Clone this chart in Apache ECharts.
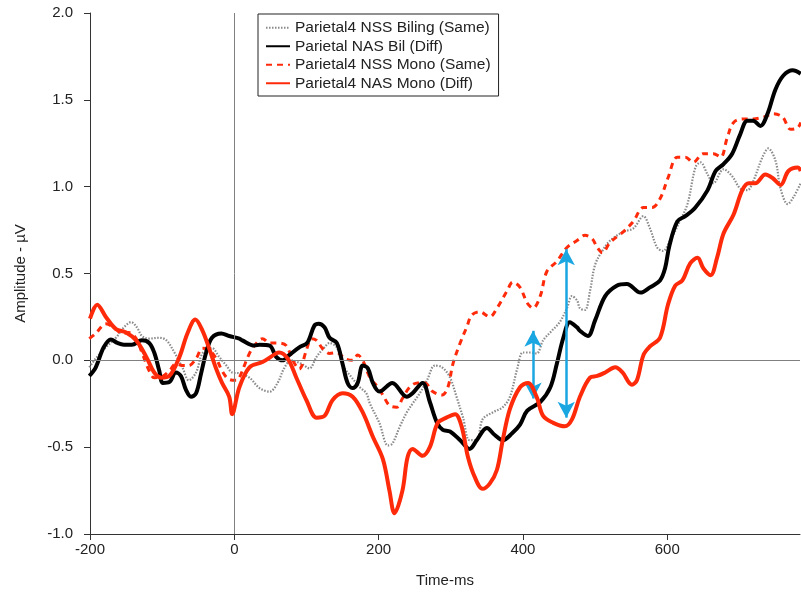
<!DOCTYPE html>
<html>
<head>
<meta charset="utf-8">
<script src="https://cdn.jsdelivr.net/npm/echarts@6/dist/echarts.min.js"></script>
<style>html,body{margin:0;padding:0;background:#fff}#c{width:801px;height:598px}</style>
</head>
<body>
<div id="c"></div>
<script>
var seriesNames = ['Parietal4 NSS Biling (Same)', 'Parietal NAS Bil (Diff)', 'Parietal4 NSS Mono (Same)', 'Parietal4 NAS Mono (Diff)'];
var xTicks = [-200, 0, 200, 400, 600];
var yTicks = [-1.0, -0.5, 0.0, 0.5, 1.0, 1.5, 2.0];

var grayT = [-201,-192,-178,-164,-153,-143,-135,-128,-118,-104,-94,-83,-72,-63,-53,-44,-31,-21,-11,-3,7,21,35,49,60,69,79,93,104,114,125,132,142,153,163,174,183,188,201,213,219,229,239,247,257,267,278,288,299,308,317,326,336,344,358,372,382,392,400,410,419,428,440,451,461,468,475,479,486,493,500,510,521,539,553,567,576,586,594,604,615,628,639,646,656,664,678,690,701,711,719,732,740,750,757,767,775,785];
var grayV = [-0.04,0.01,0.075,0.13,0.19,0.22,0.19,0.14,0.125,0.13,0.115,0.045,-0.04,-0.115,-0.07,0.04,0.07,0.02,-0.03,-0.07,-0.075,-0.10,-0.16,-0.18,-0.13,-0.046,0.0,-0.02,-0.046,0.02,0.075,0.10,0.075,-0.046,-0.10,-0.155,-0.19,-0.25,-0.36,-0.49,-0.48,-0.385,-0.30,-0.25,-0.19,-0.115,-0.03,-0.04,-0.10,-0.21,-0.33,-0.46,-0.46,-0.34,-0.30,-0.27,-0.21,-0.05,0.045,0.045,0.04,0.115,0.17,0.22,0.30,0.37,0.345,0.30,0.29,0.40,0.55,0.63,0.69,0.74,0.76,0.83,0.76,0.65,0.63,0.69,0.78,0.90,1.11,1.14,1.07,1.02,1.10,1.06,0.99,0.98,1.03,1.17,1.22,1.15,0.99,0.90,0.94,1.02];

var blackT = [-201,-192,-181,-171,-162,-153,-142,-128,-118,-111,-104,-99,-90,-81,-74,-67,-60,-53,-46,-39,-31,-18,-7,7,11,28,35,49,58,67,76,90,101,111,117,125,132,142,150,157,164,171,178,185,192,201,219,239,247,261,271,281,289,299,313,326,336,350,361,372,385,396,406,424,438,447,456,465,475,479,490,500,514,530,544,563,576,590,597,603,614,625,639,656,667,678,690,701,711,719,729,739,750,761,774,785];
var blackV = [-0.09,-0.04,0.075,0.12,0.10,0.09,0.09,0.115,0.10,0.045,-0.06,-0.13,-0.125,-0.07,-0.09,-0.17,-0.21,-0.19,-0.075,0.045,0.13,0.155,0.14,0.125,0.115,0.085,0.09,0.085,0.02,0.0,0.03,0.075,0.10,0.20,0.21,0.19,0.13,0.10,-0.02,-0.13,-0.16,-0.13,-0.03,-0.045,-0.13,-0.18,-0.13,-0.21,-0.19,-0.13,-0.24,-0.36,-0.40,-0.41,-0.46,-0.51,-0.46,-0.39,-0.43,-0.46,-0.42,-0.37,-0.29,-0.24,-0.155,-0.02,0.13,0.22,0.19,0.17,0.14,0.23,0.37,0.43,0.44,0.39,0.42,0.46,0.53,0.66,0.80,0.83,0.88,0.98,1.09,1.13,1.19,1.30,1.38,1.38,1.35,1.42,1.56,1.64,1.67,1.65];

var dashT = [-201,-192,-178,-164,-156,-146,-136,-128,-118,-111,-101,-90,-81,-72,-63,-53,-44,-35,-25,-17,-7,3,7,21,31,39,49,62,72,81,90,100,107,114,122,132,142,153,164,171,178,188,199,206,215,225,233,243,254,264,275,288,296,303,313,322,329,340,354,364,378,386,396,406,414,424,433,447,461,475,486,496,503,510,521,539,553,567,579,590,601,614,625,636,650,664,674,683,692,706,719,733,747,760,771,781,785];
var dashV = [0.125,0.155,0.21,0.18,0.155,0.16,0.125,0.045,-0.06,-0.10,-0.095,-0.06,-0.02,-0.03,-0.03,0.01,0.07,0.06,0.01,-0.06,-0.11,-0.115,-0.10,0.04,0.10,0.125,0.10,0.10,0.085,0.0,-0.05,0.06,0.125,0.115,0.07,0.04,0.045,0.01,0.0,0.03,0.0,-0.10,-0.155,-0.20,-0.26,-0.27,-0.22,-0.155,-0.13,-0.13,-0.18,-0.20,-0.155,-0.02,0.10,0.19,0.26,0.28,0.25,0.30,0.40,0.45,0.42,0.33,0.30,0.37,0.51,0.57,0.65,0.69,0.72,0.70,0.65,0.62,0.68,0.74,0.80,0.88,0.88,0.93,1.05,1.17,1.17,1.14,1.19,1.19,1.17,1.28,1.37,1.39,1.39,1.40,1.42,1.40,1.33,1.34,1.37];

var redT = [-200,-190,-178,-164,-150,-136,-122,-111,-101,-90,-76,-65,-54,-44,-35,-25,-17,-7,-3,7,21,39,58,62,74,86,100,114,125,136,150,164,178,192,206,215,222,233,240,247,261,271,282,294,306,315,324,333,344,354,364,372,382,396,407,419,428,442,458,468,479,493,503,514,528,538,551,558,567,576,590,601,611,621,632,642,650,660,669,678,692,704,713,722,736,746,757,768,781,785];
var redV = [0.24,0.32,0.25,0.18,0.16,0.115,0.02,-0.07,-0.10,-0.09,0.02,0.155,0.235,0.17,0.07,-0.05,-0.13,-0.21,-0.31,-0.155,-0.04,-0.01,0.04,0.045,0.01,-0.10,-0.23,-0.33,-0.32,-0.23,-0.19,-0.21,-0.30,-0.44,-0.57,-0.75,-0.88,-0.75,-0.56,-0.51,-0.55,-0.50,-0.36,-0.33,-0.31,-0.38,-0.56,-0.67,-0.74,-0.71,-0.63,-0.46,-0.28,-0.155,-0.13,-0.21,-0.32,-0.36,-0.38,-0.34,-0.21,-0.10,-0.09,-0.07,-0.04,-0.07,-0.14,-0.115,0.03,0.08,0.13,0.32,0.43,0.46,0.56,0.59,0.53,0.49,0.59,0.73,0.84,0.98,1.02,1.02,1.07,1.05,1.01,1.09,1.11,1.09];

// blue double-headed arrows: time, top value, bottom value
var arrowT = [414, 460];
var arrowTop = [0.17, 0.64];
var arrowBottom = [-0.22, -0.33];

function pairs(t, v) { return t.map(function (x, i) { return [x, v[i]]; }); }

var font = 'Liberation Sans, Arial, sans-serif';
var txt = '#222';
var chart = echarts.init(document.getElementById('c'), null, { renderer: 'canvas' });

var arrowData = arrowT.map(function (x, i) {
  return [{ coord: [x, arrowTop[i]] }, { coord: [x, arrowBottom[i]] }];
});

chart.setOption({
  animation: false,
  backgroundColor: '#fff',
  grid: { left: 90, right: 1, top: 13, bottom: 64, containLabel: false },
  legend: {
    data: seriesNames,
    orient: 'vertical',
    left: 258, top: 14,
    borderColor: '#222', borderWidth: 1,
    padding: [5, 8, 4, 7],
    itemGap: 1,
    itemWidth: 24, itemHeight: 12,
    itemStyle: { opacity: 0 },
    textStyle: { fontFamily: font, fontSize: 15.5, color: txt, lineHeight: 17.5 }
  },
  xAxis: {
    type: 'value', min: -200, max: 784, interval: 200,
    name: 'Time-ms', nameLocation: 'middle', nameGap: 39,
    nameTextStyle: { fontFamily: font, fontSize: 15, color: txt },
    axisLine: { onZero: false, lineStyle: { color: '#333', width: 1 } },
    axisTick: { show: true, length: 6, customValues: xTicks, lineStyle: { color: '#333' } },
    axisLabel: { customValues: xTicks, fontFamily: font, fontSize: 15, color: txt, margin: 8 },
    splitLine: { show: false }
  },
  yAxis: {
    type: 'value', min: -1, max: 2, interval: 0.5,
    name: 'Amplitude - µV', nameLocation: 'middle', nameGap: 62,
    nameTextStyle: { fontFamily: font, fontSize: 15, color: txt },
    axisLine: { show: true, onZero: false, lineStyle: { color: '#333', width: 1 } },
    axisTick: { show: true, length: 6, lineStyle: { color: '#333' } },
    axisLabel: { fontFamily: font, fontSize: 15, color: txt, margin: 17,
      formatter: function (v) { return v.toFixed(1); } },
    splitLine: { show: false }
  },
  series: [
    {
      name: seriesNames[0], type: 'line', data: pairs(grayT, grayV),
      symbol: 'none', smooth: 0.35, z: 2,
      lineStyle: { color: '#8a8a8a', width: 2.2, type: [1.5, 1.5] },
      itemStyle: { color: '#8a8a8a' },
      markLine: {
        silent: true, symbol: 'none', label: { show: false },
        lineStyle: { color: '#808080', width: 1, type: 'solid' },
        data: [{ xAxis: 0 }, { yAxis: 0 }]
      }
    },
    {
      name: seriesNames[2], type: 'line', data: pairs(dashT, dashV),
      symbol: 'none', smooth: 0.35, z: 3,
      lineStyle: { color: '#ff2a0a', width: 3, type: [6, 5] },
      itemStyle: { color: '#ff2a0a' }
    },
    {
      name: seriesNames[1], type: 'line', data: pairs(blackT, blackV),
      symbol: 'none', smooth: 0.35, z: 4,
      lineStyle: { color: '#000', width: 4 },
      itemStyle: { color: '#000' }
    },
    {
      name: seriesNames[3], type: 'line', data: pairs(redT, redV),
      symbol: 'none', smooth: 0.35, z: 5,
      lineStyle: { color: '#ff2a0a', width: 4 },
      itemStyle: { color: '#ff2a0a' }
    },
    {
      name: 'arrows', type: 'line', data: [], z: 6,
      markLine: {
        silent: true, symbol: ['arrow', 'arrow'], symbolSize: [13, 16],
        label: { show: false },
        lineStyle: { color: '#1aa6e0', width: 2.5, type: 'solid' },
        data: arrowData
      }
    }
  ]
});
</script>
</body>
</html>
